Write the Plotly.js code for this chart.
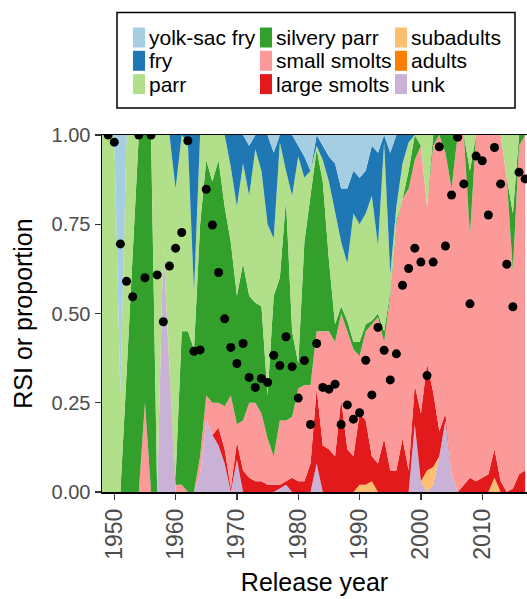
<!DOCTYPE html>
<html><head><meta charset="utf-8">
<script src="https://cdn.plot.ly/plotly-3.0.1.min.js"></script>
<style>html,body{margin:0;padding:0;background:#fff;}#chart{width:527px;height:599px;}</style>
</head><body><div id="chart"></div>
<script>
// Release years (x axis)
const years = [1948,1949,1950,1951,1952,1953,1954,1955,1956,1957,
  1958,1959,1960,1961,1962,1963,1964,1965,1966,1967,
  1968,1969,1970,1971,1972,1973,1974,1975,1976,1977,
  1978,1979,1980,1981,1982,1983,1984,1985,1986,1987,
  1988,1989,1990,1991,1992,1993,1994,1995,1996,1997,
  1998,1999,2000,2001,2002,2003,2004,2005,2006,2007,
  2008,2009,2010,2011,2012,2013,2014,2015,2016,2017];

// Proportion of releases by life stage, per year
const unk = [0,0,0,0,0,0,0,0,0,0,
  0.69,0.35,0,0,0,0,0.05,0.20,0.16,0.13,
  0.08,0,0.09,0,0,0,0,0,0,0.01,
  0.02,0,0,0,0,0.08,0,0,0,0,
  0,0,0,0,0,0,0,0,0,0,
  0,0.19,0.03,0,0.02,0.10,0.20,0.05,0,0,
  0,0,0,0,0,0,0,0,0,0];
const adults = [0,0,0,0,0,0,0,0,0,0,
  0,0,0,0,0,0,0,0,0,0,
  0,0,0,0,0,0,0,0,0,0,
  0,0,0,0,0,0,0,0,0,0,
  0,0,0,0,0,0,0,0,0,0,
  0,0,0,0,0,0,0,0,0,0,
  0,0,0,0,0,0,0,0,0,0];
const subadults = [0,0,0,0,0,0,0,0,0,0,
  0,0,0,0,0,0,0,0,0,0,
  0,0,0,0,0,0,0,0,0,0,
  0,0,0,0,0,0,0,0,0,0,
  0,0,0.02,0.02,0.03,0,0,0,0,0,
  0,0,0,0.06,0.05,0,0,0,0,0,
  0,0,0,0,0.04,0,0,0,0,0];
const largeSmolts = [0,0,0,0,0,0,0,0,0,0,
  0,0,0,0,0,0,0,0,0,0.05,
  0.04,0.01,0.05,0.06,0.04,0.03,0.03,0.02,0.02,0.01,
  0.01,0.04,0.03,0.03,0.08,0.21,0.13,0.12,0.10,0.26,
  0.12,0.10,0.20,0.18,0.07,0.08,0.15,0.06,0.06,0.15,
  0.06,0.11,0.19,0.30,0.21,0.07,0.02,0,0,0.02,
  0.04,0.03,0.04,0.05,0.08,0.03,0,0.01,0.05,0.06];
const smallSmolts = [0,0,0,0,0,0,0,0.25,0,0,
  0,0,0.02,0.02,0,0,0.05,0.07,0.09,0.07,
  0.12,0.26,0.05,0.14,0.21,0.22,0.19,0.13,0.08,0.18,
  0.17,0.17,0.26,0.27,0.22,0.16,0.32,0.33,0.32,0.24,
  0.33,0.30,0.16,0.25,0.37,0.41,0.27,0.49,0.69,0.67,
  0.79,0.63,0.75,0.44,0.69,0.83,0.73,0.80,1.00,0.98,
  0.68,0.97,0.96,0.95,0.88,0.97,0.88,0.61,0.92,0.94];
const silveryParr = [0,0,0,0,0.33,0.67,1,0.75,1,0,
  0,0,0.02,0.43,0.45,0.40,0.65,0.66,0.62,0.68,
  0.56,0.43,0.36,0.44,0.30,0.28,0.30,0.12,0.45,0.40,
  0.62,0.24,0.07,0.40,0.53,0.51,0.42,0.20,0.05,0.02,
  0.03,0.02,0.04,0.02,0.01,0.01,0.03,0.01,0.01,0,
  0.05,0.07,0,0,0.03,0,0.05,0.15,0,0,
  0.18,0,0,0,0,0,0,0.16,0.03,0];
const parr = [1,1,1,0.27,0.67,0.33,0,0,0,1,
  0.31,0.65,0.81,0.55,0.53,0.16,0.25,0.07,0.13,0.07,
  0.20,0.21,0.25,0.28,0.28,0.43,0.38,0.48,0.16,0.38,
  0.08,0.38,0.58,0.18,0.07,0.01,0.06,0.22,0.31,0.18,
  0.16,0.36,0.33,0.31,0.35,0.19,0.53,0.05,0.04,0.10,
  0.08,0,0.03,0.20,0,0,0,0,0,0,
  0.10,0,0,0,0,0,0.12,0.22,0,0];
const fry = [0,0,0,0,0,0,0,0,0,0,
  0,0,0.15,0,0.02,0.44,0,0,0,0,
  0,0.09,0.20,0.08,0.14,0.04,0.10,0.25,0.24,0.02,
  0.10,0.17,0.03,0.06,0,0.03,0.04,0.07,0.14,0.15,
  0.21,0.12,0.13,0.12,0.14,0.26,0.02,0.34,0.20,0.08,
  0.02,0,0,0,0,0,0,0,0,0,
  0,0,0,0,0,0,0,0,0,0];
const yolkSacFry = [0,0,0,0.73,0,0,0,0,0,0,
  0,0,0,0,0,0,0,0,0,0,
  0,0,0,0,0.03,0,0,0,0.05,0,
  0,0,0.03,0.06,0.10,0,0.03,0.06,0.08,0.15,
  0.15,0.10,0.12,0.10,0.03,0.05,0,0.05,0,0,
  0,0,0,0,0,0,0,0,0,0,
  0,0,0,0,0,0,0,0,0,0];

// RSI points
const rsiYears = [1949,1950,1951,1952,1953,1954,1955,1956,1957,1958,1959,
  1960,1961,1962,1963,1964,1965,1966,1967,1968,1969,
  1970,1971,1972,1973,1974,1975,1976,1977,1978,1979,
  1980,1981,1982,1983,1984,1985,1986,1987,1988,1989,
  1990,1991,1992,1993,1994,1995,1996,1997,1998,1999,
  2000,2001,2002,2003,2004,2005,2006,2007,2008,2009,
  2010,2011,2012,2013,2014,2015,2016,2017];
const rsi = [1.00,0.98,0.695,0.59,0.547,1.00,0.60,1.00,0.608,0.477,0.633,
  0.683,0.727,0.984,0.394,0.398,0.848,0.748,0.615,0.485,0.405,
  0.36,0.416,0.321,0.293,0.318,0.307,0.383,0.354,0.435,0.351,
  0.263,0.368,0.189,0.416,0.293,0.288,0.302,0.189,0.244,0.204,
  0.222,0.369,0.272,0.461,0.397,0.314,0.387,0.579,0.626,0.683,
  0.644,0.326,0.644,0.967,0.689,0.832,0.994,0.863,0.527,0.941,
  0.928,0.776,0.965,0.863,0.638,0.519,0.896,0.877];

const categories = ['yolk-sac fry','fry','parr','silvery parr','small smolts','large smolts','subadults','adults','unk'];
const catColors = ['#A6CEE3','#1F78B4','#B2DF8A','#33A02C','#FB9A99','#E31A1C','#FDBF6F','#FF7F00','#CAB2D6'];
const catSeries = [yolkSacFry, fry, parr, silveryParr, smallSmolts, largeSmolts, subadults, adults, unk];

const xTicks = [1950,1960,1970,1980,1990,2000,2010];
const yTicks = [0,0.25,0.5,0.75,1];
const yTickText = ['0.00','0.25','0.50','0.75','1.00'];

const W = 527, H = 599, ML = 102, MR = 0, MT = 135, MB = 107;
const PW = W - ML - MR, PH = H - MT - MB;
const px2x = p => (p - ML) / PW;
const py2y = p => (H - MB - p) / PH;

const traces = [];
for (let i = categories.length - 1; i >= 0; i--) {
  traces.push({
    x: years, y: catSeries[i], type: 'scatter', mode: 'lines',
    stackgroup: 'one', groupnorm: 'fraction',
    line: {width: 0, color: catColors[i]}, fillcolor: catColors[i],
    name: categories[i], showlegend: false, hoverinfo: 'skip'
  });
}
traces.push({
  x: rsiYears, y: rsi, type: 'scatter', mode: 'markers',
  marker: {color: '#000000', size: 9}, showlegend: false, hoverinfo: 'skip', cliponaxis: true
});

// manual legend (3 columns, filled column-wise as in the reference)
const FONT = 'Liberation Sans, Arial, sans-serif';
const colSwatchX = [133, 260, 395];
const rowCenterY = [37.5, 60.8, 84.1];
const shapes = [{
  type: 'rect', xref: 'paper', yref: 'paper',
  x0: px2x(117), x1: px2x(515), y0: py2y(108), y1: py2y(12.5),
  line: {color: '#000', width: 1.5}, fillcolor: 'rgba(0,0,0,0)'
}];
const annotations = [];
categories.forEach((c, i) => {
  const col = Math.floor(i / 3), row = i % 3;
  const sx = colSwatchX[col], cy = rowCenterY[row];
  shapes.push({
    type: 'rect', xref: 'paper', yref: 'paper',
    x0: px2x(sx), x1: px2x(sx + 12), y0: py2y(cy + 10), y1: py2y(cy - 10),
    line: {width: 0}, fillcolor: catColors[i]
  });
  annotations.push({
    xref: 'paper', yref: 'paper', x: px2x(sx + 14), y: py2y(cy),
    xanchor: 'left', yanchor: 'middle', showarrow: false, text: c,
    font: {family: FONT, size: 21, color: '#000'}
  });
});

const layout = {
  width: W, height: H,
  margin: {l: ML, r: MR, t: MT, b: MB, pad: 0},
  paper_bgcolor: '#fff', plot_bgcolor: '#fff',
  showlegend: false,
  xaxis: {
    range: [1948, 2017.3], tickvals: xTicks, ticktext: xTicks.map(String),
    tickangle: -90, ticks: 'outside', ticklen: 6, tickwidth: 1.2, tickcolor: '#333',
    showline: true, linecolor: '#000', linewidth: 1.5, mirror: true,
    showgrid: false, zeroline: false,
    tickfont: {family: FONT, size: 23, color: '#4d4d4d'},
    title: {text: 'Release year', font: {family: FONT, size: 25, color: '#000'}, standoff: 14}
  },
  yaxis: {
    range: [0, 1], tickvals: yTicks, ticktext: yTickText,
    ticks: 'outside', ticklen: 6, tickwidth: 1.2, tickcolor: '#333',
    showline: true, linecolor: '#000', linewidth: 1.5, mirror: true,
    showgrid: false, zeroline: false,
    tickfont: {family: FONT, size: 20, color: '#4d4d4d'},
    title: {text: 'RSI or proportion', font: {family: FONT, size: 25, color: '#000'}, standoff: 12}
  },
  shapes: shapes,
  annotations: annotations
};

Plotly.newPlot('chart', traces, layout, {staticPlot: true, displayModeBar: false});
</script>
</body></html>
